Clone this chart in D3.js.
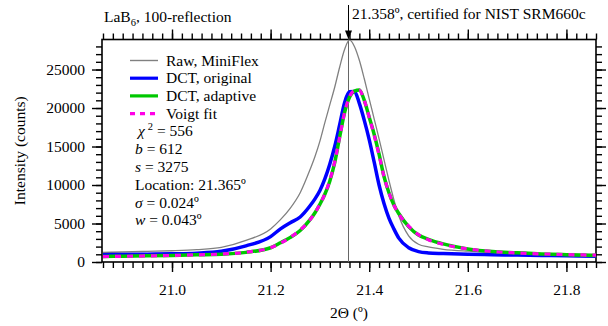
<!DOCTYPE html>
<html>
<head>
<meta charset="utf-8">
<script src="https://cdn.jsdelivr.net/npm/d3@7"></script>
<style>
  body { margin: 0; background: #fff; }
  svg text { font-family: "Liberation Serif", "Times New Roman", Times, serif; }
</style>
</head>
<body>
<svg id="chart" width="608" height="326"></svg>
<script>
// 2-theta grid (degrees) and intensities
var twoTheta = [20.86, 20.90, 20.95, 21.00, 21.05, 21.10, 21.15, 21.20, 21.22, 21.24,
                21.26, 21.28, 21.29, 21.30, 21.31, 21.32, 21.33, 21.34, 21.35, 21.36,
                21.37, 21.38, 21.39, 21.40, 21.41, 21.42, 21.43, 21.44, 21.45, 21.46,
                21.48, 21.50, 21.52, 21.55, 21.60, 21.65, 21.70, 21.75, 21.80, 21.86];

var rawMiniFlex = [1250, 1300, 1380, 1460, 1600, 1900, 2800, 4300, 5500, 7000,
                   9000, 12000, 13700, 15700, 18100, 20400, 22700, 25300, 27600, 28850,
                   28000, 26200, 23800, 21200, 18600, 16000, 13300, 10600, 8100, 6000,
                   3400, 2300, 1950, 1650, 1400, 1250, 1150, 1100, 1050, 1000];

var dctOriginal = [950, 980, 1020, 1060, 1150, 1400, 2100, 3300, 4300, 5100,
                   5850, 7300, 8200, 9300, 10800, 12700, 15000, 17800, 20700, 22100,
                   22150, 20600, 18400, 15900, 13000, 10000, 7600, 5700, 4300, 3100,
                   1850, 1350, 1180, 1100, 1000, 950, 900, 850, 800, 750];

var dctAdaptive = [720, 760, 800, 860, 930, 1000, 1250, 1850, 2500, 3200,
                   4100, 5500, 6400, 7500, 8800, 10500, 12900, 16200, 19400, 21400,
                   22200, 22350, 21000, 18800, 16600, 14000, 11100, 9000, 7400, 6300,
                   4600, 3500, 2950, 2350, 1700, 1350, 1200, 1050, 950, 850];

var voigtFit = [700, 740, 790, 850, 930, 1030, 1270, 1850, 2450, 3200,
                4150, 5500, 6400, 7500, 8850, 10600, 13000, 16200, 19400, 21450,
                22250, 22300, 21000, 18800, 16500, 13900, 11100, 9000, 7400, 6250,
                4650, 3550, 2900, 2300, 1700, 1350, 1180, 1050, 960, 880];

var xTicks = [21.0, 21.2, 21.4, 21.6, 21.8];
var yTicks = [0, 5000, 10000, 15000, 20000, 25000];
var certified = 21.358;

var legendLabels = ["Raw, MiniFlex", "DCT, original", "DCT, adaptive", "Voigt fit"];

var FONT = "'Liberation Serif', 'Times New Roman', Times, serif";
var FS = 15.5;

var margin = {left: 102, right: 12, top: 39.5, bottom: 64};
var W = 608, H = 326;

var svg = d3.select("#chart");

var x = d3.scaleLinear()
    .domain([20.858, 21.86])
    .range([margin.left, W - margin.right]);

var y = d3.scaleLinear()
    .domain([0, 28900])
    .range([H - margin.bottom, margin.top]);

var x0 = x.range()[0], x1 = x.range()[1],
    y0 = y.range()[0], y1 = y.range()[1];

svg.append("defs").append("clipPath").attr("id", "clip")
  .append("rect")
    .attr("x", x0).attr("y", y1)
    .attr("width", x1 - x0).attr("height", y0 - y1);

// minor + major ticks, all pointing outward
var xMinor = d3.range(20.86, 21.861, 0.02).map(function(d) { return +d.toFixed(2); });
var yMinor = d3.range(0, 28001, 1000);

function tickAxis(axisFn, scale, minor, major, pos, labels) {
  var g = svg.append("g").attr("transform", pos);
  g.call(axisFn(scale).tickValues(minor).tickSize(6).tickFormat(""));
  var gm = svg.append("g").attr("transform", pos);
  gm.call(axisFn(scale).tickValues(major).tickSize(10).tickPadding(7)
          .tickFormat(labels ? labels : ""));
  [g, gm].forEach(function(s) {
    s.attr("font-family", FONT).attr("font-size", FS);
    s.select(".domain").remove();
    s.selectAll("line").attr("stroke", "#000").attr("stroke-width", 1.4);
    s.selectAll("text").attr("fill", "#000");
  });
  return gm;
}

var bx = tickAxis(d3.axisBottom, x, xMinor, xTicks, "translate(0," + y0 + ")", d3.format(".1f"));
bx.selectAll("text").attr("dy", "1.0em");
tickAxis(d3.axisTop, x, xMinor, xTicks, "translate(0," + y1 + ")");
tickAxis(d3.axisLeft, y, yMinor, yTicks, "translate(" + x0 + ",0)", d3.format("d"));
tickAxis(d3.axisRight, y, yMinor, yTicks, "translate(" + x1 + ",0)");

// frame
svg.append("rect")
    .attr("x", x0).attr("y", y1)
    .attr("width", x1 - x0).attr("height", y0 - y1)
    .attr("fill", "none").attr("stroke", "#000").attr("stroke-width", 1.6);

// certified position line
svg.append("line")
    .attr("x1", x(certified)).attr("x2", x(certified))
    .attr("y1", y1).attr("y2", y0)
    .attr("stroke", "#666").attr("stroke-width", 1);

var line = function(vals) {
  return d3.line()
    .x(function(d, i) { return x(twoTheta[i]); })
    .y(function(d) { return y(d); })
    .curve(d3.curveMonotoneX)(vals);
};

var plot = svg.append("g").attr("clip-path", "url(#clip)");

var series = [
  {vals: rawMiniFlex, color: "#808080", width: 1.3, dash: null},
  {vals: dctOriginal, color: "#0000ff", width: 3.5, dash: null},
  {vals: dctAdaptive, color: "#00c800", width: 3.5, dash: null},
  {vals: voigtFit, color: "#ff00e6", width: 3.2, dash: "6,6"}
];

series.forEach(function(s) {
  plot.append("path")
    .attr("d", line(s.vals))
    .attr("fill", "none")
    .attr("stroke", s.color)
    .attr("stroke-width", s.width)
    .attr("stroke-dasharray", s.dash)
    .attr("stroke-linejoin", "round");
});

// arrow above the plot
var ax = x(certified);
svg.append("line")
    .attr("x1", ax).attr("x2", ax).attr("y1", 5).attr("y2", y1 - 6)
    .attr("stroke", "#000").attr("stroke-width", 1);
svg.append("path")
    .attr("d", "M" + (ax - 3.5) + "," + (y1 - 9) + "L" + (ax + 3.5) + "," + (y1 - 9) + "L" + ax + "," + y1 + "Z")
    .attr("fill", "#000");

var txt = svg.append("g").attr("font-family", FONT).attr("font-size", FS).attr("fill", "#000");

txt.append("text")
    .attr("x", ax + 3.5).attr("y", 19)
    .text("21.358º, certified for NIST SRM660c");

// title
var title = txt.append("text").attr("x", 104).attr("y", 22);
title.append("tspan").text("LaB");
title.append("tspan").attr("font-size", 10.5).attr("dy", 4).text("6");
title.append("tspan").attr("dy", -4).text(", 100-reflection");

// legend
legendLabels.forEach(function(lab, i) {
  var s = series[i];
  var ly0 = 60.5 + i * 17.7;
  svg.append("line")
    .attr("x1", 130).attr("x2", 158).attr("y1", ly0).attr("y2", ly0)
    .attr("stroke", s.color)
    .attr("stroke-width", i === 0 ? 1.4 : 3.2)
    .attr("stroke-dasharray", i === 3 ? "5,5" : null);
  txt.append("text")
    .attr("x", 166).attr("y", ly0 + 5)
    .text(lab);
});

// fit statistics
var chi = txt.append("text").attr("x", 138).attr("y", 136);
chi.append("tspan").attr("font-style", "italic").text("χ");
chi.append("tspan").attr("font-size", 10.5).attr("dx", 3).attr("dy", -6).text("2");
chi.append("tspan").attr("dy", 6).text(" = 556");

var t;
t = txt.append("text").attr("x", 135).attr("y", 153.5);
t.append("tspan").attr("font-style", "italic").text("b");
t.append("tspan").text(" = 612");

t = txt.append("text").attr("x", 135).attr("y", 171.5);
t.append("tspan").attr("font-style", "italic").text("s");
t.append("tspan").text(" = 3275");

txt.append("text").attr("x", 135).attr("y", 189.5).text("Location: 21.365º");

t = txt.append("text").attr("x", 135).attr("y", 207.5);
t.append("tspan").attr("font-style", "italic").text("σ");
t.append("tspan").text(" = 0.024º");

t = txt.append("text").attr("x", 135).attr("y", 225);
t.append("tspan").attr("font-style", "italic").text("w");
t.append("tspan").text(" = 0.043º");

// axis titles
txt.append("text")
    .attr("x", (x0 + x1) / 2).attr("y", 318)
    .attr("text-anchor", "middle")
    .text("2Θ (º)");

txt.append("text")
    .attr("transform", "translate(25," + ((y0 + y1) / 2) + ") rotate(-90)")
    .attr("text-anchor", "middle")
    .text("Intensity (counts)");
</script>
</body>
</html>
